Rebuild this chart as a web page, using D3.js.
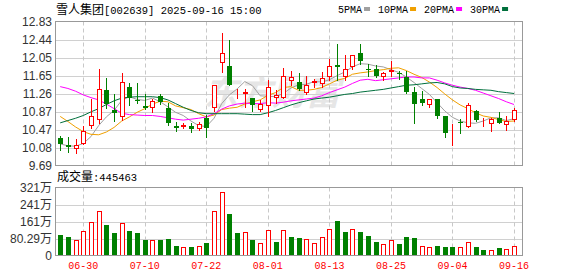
<!DOCTYPE html>
<html>
<head>
<meta charset="utf-8">
<title>雪人集团[002639]</title>
<script src="https://cdn.jsdelivr.net/npm/d3@7"></script>
<style>
  body { margin: 0; background: #fff; }
  .mono { font-family: "Liberation Mono", "DejaVu Sans Mono", monospace; font-size: 10px; }
  .cjk { font-family: "Noto Sans CJK SC", sans-serif; font-size: 12px; }
  .axis { font-family: "Liberation Sans", Arial, sans-serif; font-size: 12px; fill: #333; }
</style>
</head>
<body>
<div id="chart"></div>
<script>
var dates = ["06-25","06-26","06-27","06-30","07-01","07-02","07-03","07-04","07-07","07-08",
  "07-09","07-10","07-11","07-14","07-15","07-16","07-17","07-18","07-21","07-22",
  "07-23","07-24","07-25","07-28","07-29","07-30","07-31","08-01","08-04","08-05",
  "08-06","08-07","08-08","08-11","08-12","08-13","08-14","08-15","08-18","08-19",
  "08-20","08-21","08-22","08-25","08-26","08-27","08-28","08-29","09-01","09-02",
  "09-03","09-04","09-05","09-08","09-09","09-10","09-11","09-12","09-15","09-16"];

var open = [10.29,10.14,10.05,10.16,10.55,10.69,11.33,10.89,10.74,11.40,
  11.12,10.99,10.95,11.20,10.95,10.56,10.54,10.56,10.49,10.72,
  10.95,11.93,11.85,11.26,11.24,11.17,10.89,10.98,11.17,11.17,
  11.53,11.52,11.27,11.49,11.47,11.62,11.89,11.62,11.84,12.15,
  11.79,11.80,11.62,11.73,11.70,11.62,11.29,11.13,11.02,11.13,
  10.76,10.32,10.64,10.54,10.87,10.61,10.60,10.72,10.58,10.69];
var high = [10.34,10.32,10.27,10.56,11.13,11.79,11.60,11.24,11.71,11.49,
  11.49,11.25,11.14,11.25,11.05,10.64,10.61,10.61,10.63,10.80,
  11.44,12.58,12.42,11.36,11.36,11.17,11.11,11.56,11.33,11.81,
  11.75,11.71,11.65,11.58,11.73,12.02,12.35,12.09,12.11,12.35,
  11.91,11.89,11.73,11.96,11.76,11.75,11.41,11.31,11.15,11.13,
  10.76,10.60,10.71,11.05,10.89,10.72,10.72,10.85,10.76,10.94];
var low = [10.03,9.98,9.96,10.15,10.51,10.62,10.95,10.67,10.69,11.00,
  11.05,10.93,10.85,11.04,10.58,10.45,10.51,10.43,10.47,10.31,
  10.88,11.73,11.44,11.17,10.96,10.88,10.88,10.76,11.05,11.17,
  11.44,11.33,11.24,11.40,11.40,11.55,11.55,11.55,11.80,11.91,
  11.65,11.63,11.55,11.65,11.58,11.27,10.61,11.01,10.96,10.72,
  10.31,10.13,10.39,10.53,10.66,10.55,10.45,10.61,10.47,10.67];
var close = [10.16,10.09,10.13,10.45,10.78,11.36,11.04,10.84,11.52,11.17,
  11.09,10.95,11.09,11.07,10.61,10.51,10.58,10.49,10.60,10.51,
  11.44,12.15,11.44,11.28,11.29,11.00,11.04,11.40,11.22,11.65,
  11.62,11.36,11.44,11.53,11.60,11.86,11.84,11.80,12.11,11.96,
  11.78,11.65,11.71,11.78,11.68,11.29,11.04,11.05,11.15,10.77,
  10.40,10.34,10.62,11.00,10.69,10.63,10.71,10.61,10.67,10.89];
// volume in shares
var volume = [945000,897000,740000,1165000,1590000,2110000,1450000,1086000,1540000,1180000,
  1040000,710000,740000,710000,756000,470000,425000,425000,457000,567000,
  2125000,3020000,1980000,1040000,1120000,710000,567000,1210000,660000,1210000,
  897000,818000,787000,598000,897000,1228000,1606000,1100000,1275000,1130000,
  910000,660000,520000,710000,535000,866000,818000,440000,378000,440000,
  393000,393000,425000,614000,393000,250000,283000,346000,330000,445463];

var ma5 = [10.16,10.12,10.11,10.17,10.32,10.56,10.75,10.89,11.11,11.19,
  11.13,11.11,11.16,11.08,10.97,10.85,10.78,10.66,10.56,10.54,
  10.72,11.04,11.23,11.36,11.52,11.43,11.21,11.20,11.19,11.26,
  11.38,11.45,11.46,11.52,11.51,11.56,11.65,11.73,11.84,11.91,
  11.90,11.86,11.84,11.78,11.72,11.62,11.50,11.37,11.24,11.06,
  10.88,10.74,10.66,10.62,10.61,10.66,10.73,10.73,10.67,10.71];
var ma10 = [10.76,10.65,10.53,10.43,10.37,10.36,10.42,10.52,10.66,10.75,
  10.85,10.93,11.03,11.09,11.08,10.99,10.95,10.91,10.82,10.75,
  10.79,10.91,10.94,10.96,11.03,11.08,11.12,11.22,11.28,11.39,
  11.41,11.33,11.33,11.35,11.39,11.47,11.55,11.59,11.68,11.71,
  11.73,11.76,11.78,11.81,11.82,11.76,11.68,11.61,11.51,11.39,
  11.25,11.12,11.01,10.93,10.84,10.77,10.74,10.69,10.65,10.66];
var ma20 = [11.41,11.37,11.31,11.23,11.17,11.12,11.03,10.93,10.83,10.80,
  10.79,10.78,10.78,10.76,10.73,10.70,10.68,10.70,10.72,10.75,
  10.82,10.92,10.99,11.03,11.05,11.04,11.04,11.06,11.05,11.07,
  11.10,11.12,11.14,11.16,11.21,11.28,11.34,11.40,11.48,11.55,
  11.57,11.54,11.56,11.58,11.60,11.62,11.62,11.60,11.60,11.55,
  11.49,11.44,11.40,11.37,11.33,11.27,11.21,11.15,11.08,11.02];
var ma30 = [10.62,10.67,10.72,10.78,10.86,10.93,11.02,11.10,11.16,11.18,
  11.19,11.19,11.19,11.17,11.12,11.04,10.96,10.89,10.84,10.82,
  10.82,10.82,10.82,10.82,10.81,10.80,10.80,10.84,10.89,10.95,
  11.01,11.06,11.10,11.14,11.16,11.18,11.21,11.24,11.26,11.29,
  11.31,11.33,11.35,11.38,11.41,11.44,11.45,11.47,11.49,11.50,
  11.47,11.41,11.38,11.37,11.35,11.34,11.33,11.30,11.28,11.26];

var tickDates = ["06-30","07-10","07-22","08-01","08-13","08-25","09-04","09-16"];
var priceTicks = [9.69,10.0825,10.475,10.8675,11.26,11.6525,12.045,12.4375,12.83];
var priceLabels = ["9.69","10.08","10.47","10.87","11.26","11.65","12.05","12.44","12.83"];
var volTicks = [0,802900,1605800,2408700,3211600];
var volLabels = ["0","80.29万","161万","241万","321万"];
var maNames = ["5PMA","10PMA","20PMA","30PMA"];
var maColors = ["#a0a0a0","#f0a000","#ff00ff","#006f3c"];

var width = 578, height = 276;
var L = 55.5, R = 522.5, pTop = 21.5, pBot = 165.5, vTop = 187.5, vBot = 255.5;
var RED = "#ff0000", GREEN = "#008000";

var svg = d3.select("#chart").append("svg")
  .attr("width", width).attr("height", height);

var x = d3.scalePoint().domain(dates).range([60.2, 514]);
var y = d3.scaleLinear().domain([9.69, 12.83]).range([pBot, pTop]);
var yv = d3.scaleLinear().domain([0, 3211600]).range([vBot, vTop]);

// watermark
svg.append("text").attr("x", 272).attr("y", 105).attr("text-anchor", "middle")
  .attr("class", "cjk").style("font-size", "34px").style("font-weight", "bold")
  .style("font-style", "italic").attr("fill", "#e6e6e6").text("东方财富");

// grids
function grid(g, ticks, sc, y0, y1) {
  g.selectAll(".h").data(ticks.slice(1, -1)).enter().append("line")
    .attr("x1", L).attr("x2", R)
    .attr("y1", function(d) { return Math.round(sc(d)) + 0.5; })
    .attr("y2", function(d) { return Math.round(sc(d)) + 0.5; })
    .attr("stroke", "#d0d0d0");
  g.selectAll(".v").data(tickDates).enter().append("line")
    .attr("x1", function(d) { return Math.round(x(d)) + 0.5; })
    .attr("x2", function(d) { return Math.round(x(d)) + 0.5; })
    .attr("y1", y0).attr("y2", y1)
    .attr("stroke", "#c8c8c8").attr("stroke-dasharray", "4,3");
}
grid(svg.append("g"), priceTicks, y, pTop, pBot);
grid(svg.append("g"), volTicks, yv, vTop, vBot);

// moving averages
[ma5, ma10, ma20, ma30].forEach(function(arr, k) {
  var line = d3.line()
    .x(function(d, i) { return x(dates[i]); })
    .y(function(d) { return y(d); });
  svg.append("path").datum(arr).attr("d", line)
    .attr("fill", "none").attr("stroke", maColors[k]).attr("stroke-width", 1);
});

// candles
var candles = svg.append("g");
dates.forEach(function(d, i) {
  var cx = Math.round(x(d));
  var up = close[i] > open[i];
  var col = up ? RED : GREEN;
  var top = Math.round(y(Math.max(open[i], close[i])));
  var bot = Math.round(y(Math.min(open[i], close[i])));
  candles.append("line")
    .attr("x1", cx + 0.5).attr("x2", cx + 0.5)
    .attr("y1", Math.round(y(high[i]))).attr("y2", Math.round(y(low[i])) + 1)
    .attr("stroke", col);
  if (up) {
    candles.append("rect").attr("x", cx - 1.5).attr("y", top + 0.5)
      .attr("width", 4).attr("height", Math.max(bot - top - 1, 0))
      .attr("fill", "#fff").attr("stroke", col);
  } else {
    candles.append("rect").attr("x", cx - 2).attr("y", top)
      .attr("width", 5).attr("height", Math.max(bot - top, 1))
      .attr("fill", col);
  }
});

// volume
var vols = svg.append("g");
dates.forEach(function(d, i) {
  var cx = Math.round(x(d));
  var up = i > 0 && close[i] > close[i - 1];
  var top = Math.round(yv(volume[i]));
  if (up) {
    vols.append("rect").attr("x", cx - 1.5).attr("y", top + 0.5)
      .attr("width", 4).attr("height", Math.round(vBot) - top - 1)
      .attr("fill", "#fff").attr("stroke", RED);
  } else {
    vols.append("rect").attr("x", cx - 2).attr("y", top)
      .attr("width", 5).attr("height", Math.round(vBot) - top)
      .attr("fill", GREEN);
  }
});

// frames
[[pTop, pBot], [vTop, vBot]].forEach(function(p) {
  svg.append("rect").attr("x", L).attr("y", p[0])
    .attr("width", R - L).attr("height", p[1] - p[0])
    .attr("fill", "none").attr("stroke", "#999");
});

// y labels
svg.selectAll(".pl").data(priceTicks).enter().append("text")
  .attr("class", "axis").attr("x", 52).attr("y", function(d) { return y(d); })
  .attr("dy", "0.36em").attr("text-anchor", "end")
  .text(function(d, i) { return priceLabels[i]; });
svg.selectAll(".vl").data(volTicks).enter().append("text")
  .attr("class", "axis").attr("x", 52).attr("y", function(d) { return yv(d); })
  .attr("dy", "0.36em").attr("text-anchor", "end")
  .each(function(d, i) {
    var t = d3.select(this), s = volLabels[i];
    if (s.indexOf("万") >= 0) {
      t.append("tspan").text(s.replace("万", ""));
      t.append("tspan").attr("class", "cjk").style("fill", "#333").text("万");
    } else t.text(s);
  });

// x labels
svg.selectAll(".xl").data(tickDates).enter().append("text")
  .attr("class", "mono").attr("x", function(d) { return x(d); }).attr("y", 269)
  .attr("text-anchor", "middle").attr("fill", RED).text(function(d) { return d; });

// title
var title = svg.append("text").attr("x", 56).attr("y", 14).attr("fill", "#000");
title.append("tspan").attr("class", "cjk").text("雪人集团");
title.append("tspan").attr("class", "mono").style("font-size", "10.5px").text("[002639] 2025-09-16 15:00");

// volume title
var vt = svg.append("text").attr("x", 57).attr("y", 181).attr("fill", "#000");
vt.append("tspan").attr("class", "cjk").text("成交量");
vt.append("tspan").attr("class", "mono").style("font-size", "10.5px").text(":" + volume[volume.length - 1]);

// legend
var lx = 338;
maNames.forEach(function(n, k) {
  var t = svg.append("text").attr("class", "mono").attr("x", lx).attr("y", 13)
    .attr("fill", "#000").text(n);
  var w = t.node().getComputedTextLength();
  svg.append("rect").attr("x", lx + w + 2).attr("y", 7).attr("width", 6).attr("height", 4)
    .attr("fill", maColors[k]);
  lx += w + 2 + 6 + 8;
});
</script>
</body>
</html>
